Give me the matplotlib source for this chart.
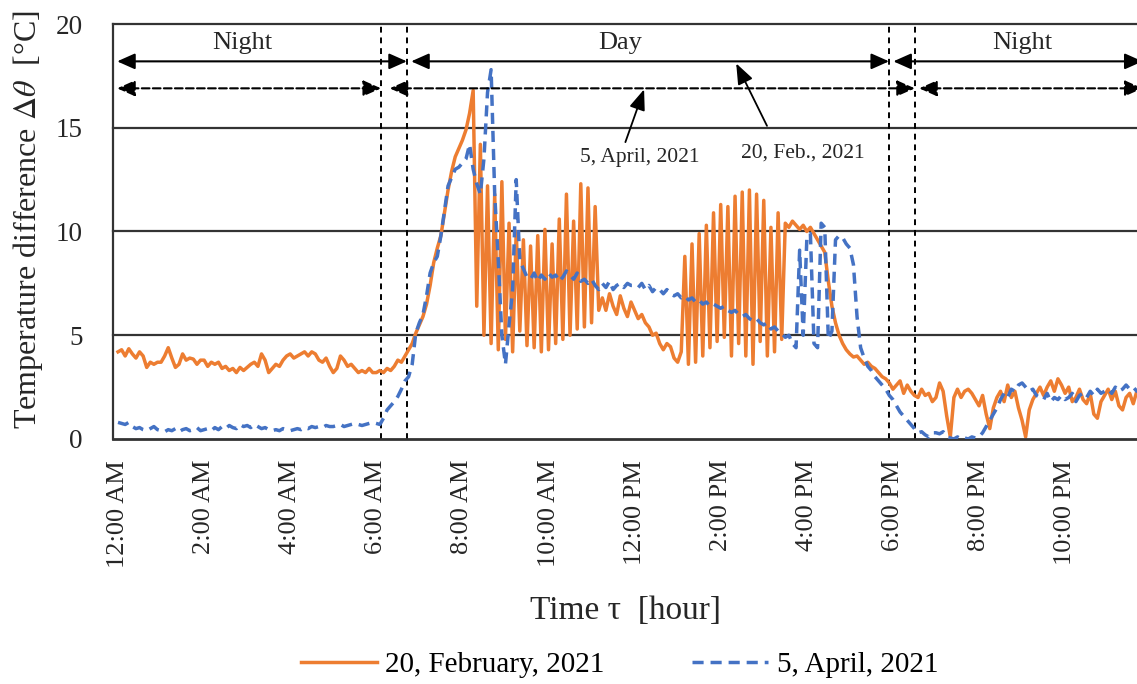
import numpy as np
import matplotlib
matplotlib.use('Agg')
import matplotlib.pyplot as plt

plt.rcParams['font.family'] = ['Liberation Serif', 'DejaVu Serif']
plt.rcParams['mathtext.fontset'] = 'stix'

# temperature difference, one value every 5 minutes, one row per hour
feb = [
    4.2, 4.3, 4.0, 4.35, 4.1, 3.9, 4.2, 4.0, 3.45, 3.7, 3.6, 3.7,
    3.7, 4.0, 4.4, 3.9, 3.45, 3.6, 4.1, 3.8, 3.9, 3.85, 3.6, 3.8,
    3.8, 3.5, 3.7, 3.6, 3.7, 3.4, 3.5, 3.3, 3.4, 3.2, 3.45, 3.3,
    3.45, 3.6, 3.7, 3.5, 4.1, 3.8, 3.2, 3.4, 3.6, 3.5, 3.8, 4.0,
    4.1, 3.9, 4.0, 4.1, 4.2, 4.0, 4.2, 4.1, 3.8, 3.7, 3.9, 3.5,
    3.2, 3.4, 4.0, 3.8, 3.5, 3.6, 3.4, 3.2, 3.3, 3.2, 3.4, 3.2,
    3.2, 3.3, 3.2, 3.4, 3.3, 3.5, 3.8, 3.7, 4.0, 4.3, 4.6, 5.1,
    5.5, 5.9, 6.5, 7.4, 8.5, 9.2, 9.8, 10.9, 12.0, 12.9, 13.6, 14.0,
    14.4, 14.9, 15.7, 16.8, 6.4, 14.2, 5.0, 12.2, 4.6, 11.8, 4.3, 12.4,
    4.8, 10.4, 4.2, 10.0, 5.2, 9.6, 4.5, 9.3, 4.4, 9.8, 4.2, 10.1,
    4.3, 9.4, 4.6, 10.6, 4.8, 11.8, 5.0, 10.5, 5.3, 12.3, 5.4, 12.1,
    5.6, 11.2, 6.2, 6.8, 6.2, 7.0, 6.4, 6.0, 6.9, 6.3, 5.9, 6.6,
    6.2, 5.8, 6.0, 5.6, 5.4, 5.0, 5.1, 4.6, 4.3, 4.6, 4.45, 3.9,
    3.7, 4.2, 8.8, 3.6, 9.4, 3.7, 9.9, 4.0, 10.3, 4.4, 10.9, 4.7,
    11.3, 4.9, 11.2, 4.0, 11.7, 4.6, 11.9, 4.0, 12.0, 3.6, 11.8, 4.7,
    11.5, 4.0, 10.2, 4.2, 10.9, 4.8, 10.4, 10.2, 10.5, 10.3, 10.1, 10.3,
    10.0, 10.2, 9.9, 9.6, 9.3, 9.0, 7.6, 6.4, 5.6, 5.0, 4.6, 4.3,
    4.1, 3.95, 4.0, 3.8, 3.6, 3.7, 3.5, 3.4, 3.2, 3.0, 2.9, 2.7,
    2.4, 2.6, 2.8, 2.2, 2.6, 2.3, 2.1, 2.0, 2.4, 2.1, 2.2, 1.8,
    2.0, 2.7, 2.3, 1.1, 0.1, 2.0, 2.4, 2.0, 2.3, 2.4, 2.2, 1.9,
    1.6, 2.1, 1.2, 0.5, 1.5, 2.0, 2.3, 1.8, 2.6, 2.0, 2.3, 1.5,
    0.9, 0.1, 1.4, 1.9, 2.2, 2.5, 2.1, 2.5, 2.8, 2.3, 2.9, 2.6,
    2.2, 2.5, 1.8, 2.0, 2.4, 1.9, 1.7, 2.2, 1.2, 1.0, 1.8, 2.1,
    2.4, 1.9, 2.3, 1.6, 1.4, 2.0, 2.2, 1.7, 2.3, 1.9, 1.6, 2.0,
]

apr = [
    0.8, 0.75, 0.7, 0.8, 0.6, 0.5, 0.55, 0.45, 0.4, 0.5, 0.6, 0.45,
    0.4, 0.35, 0.45, 0.4, 0.5, 0.35, 0.45, 0.5, 0.4, 0.45, 0.55, 0.4,
    0.45, 0.5, 0.4, 0.55, 0.45, 0.6, 0.5, 0.65, 0.55, 0.5, 0.7, 0.6,
    0.65, 0.55, 0.7, 0.6, 0.5, 0.55, 0.45, 0.4, 0.45, 0.4, 0.5, 0.45,
    0.4, 0.45, 0.5, 0.45, 0.55, 0.5, 0.6, 0.55, 0.6, 0.55, 0.65, 0.6,
    0.6, 0.65, 0.7, 0.6, 0.65, 0.7, 0.75, 0.7, 0.65, 0.7, 0.75, 0.8,
    0.75, 0.7, 1.0, 1.4, 1.6, 1.8, 2.05, 2.4, 2.8, 3.0, 3.6, 5.1,
    5.6, 6.0, 6.9, 8.0, 8.5, 8.8, 9.8, 11.0, 12.2, 12.6, 13.0, 13.1,
    13.3, 13.5, 14.2, 13.0, 12.3, 11.8, 13.5, 16.7, 17.8, 11.8, 8.6, 5.0,
    3.6, 5.5, 7.2, 12.5, 8.6, 8.2, 7.8, 7.7, 8.0, 7.6, 7.9, 7.7,
    8.0, 7.8, 7.9, 7.6, 7.8, 8.1, 7.9, 7.7, 8.0, 7.6, 7.7, 7.5,
    7.7, 7.4, 7.2, 7.5, 7.3, 7.6, 7.2, 7.4, 7.5, 7.3, 7.5, 7.4,
    7.4, 7.3, 7.5, 7.2, 7.4, 7.1, 7.3, 7.2, 7.0, 7.2, 7.0, 6.9,
    7.0, 6.8, 6.9, 6.7, 6.8, 6.6, 6.7, 6.5, 6.6, 6.4, 6.5, 6.4,
    6.3, 6.4, 6.2, 6.1, 6.2, 6.0, 5.9, 6.0, 5.8, 5.7, 5.8, 5.6,
    5.5, 5.6, 5.3, 5.4, 5.2, 5.1, 4.9, 5.0, 4.6, 4.4, 9.1, 5.0,
    9.6, 9.9, 4.6, 4.4, 10.4, 10.2, 4.8, 5.2, 9.6, 9.8, 9.7, 9.4,
    9.2, 8.4, 5.9, 4.4, 3.9, 3.5, 3.3, 3.0, 2.8, 2.6, 2.4, 2.1,
    1.9, 1.6, 1.3, 1.1, 0.9, 0.7, 0.5, 0.3, 0.35, 0.2, 0.1, 0.3,
    0.3, 0.25, 0.35, 0.1, 0.05, 0.0, 0.1, 0.0, 0.05, 0.0, 0.1, 0.05,
    0.1, 0.3, 0.6, 0.9, 1.2, 1.5, 1.9, 2.2, 2.0, 2.4, 2.3, 2.6,
    2.7, 2.5, 2.3, 2.4, 2.1, 2.0, 1.9, 2.2, 1.8, 2.0, 1.9, 2.1,
    1.9, 2.0, 2.2, 1.8, 2.1, 2.2, 2.0, 2.3, 2.1, 2.4, 2.2, 2.3,
    2.4, 2.2, 2.5, 2.3, 2.4, 2.6, 2.4, 2.5, 2.3, 2.5, 2.6, 2.4,
]

tick_hours = [0, 2, 4, 6, 8, 10, 12, 14, 16, 18, 20, 22]
tick_labels = ['12:00 AM', '2:00 AM', '4:00 AM', '6:00 AM', '8:00 AM', '10:00 AM',
               '12:00 PM', '2:00 PM', '4:00 PM', '6:00 PM', '8:00 PM', '10:00 PM']

# sunrise / sunset (hours)
feb_rise, feb_set = 6.71, 17.91
apr_rise, apr_set = 6.11, 18.51

t = np.arange(len(feb)) * 5 / 60

fig = plt.figure(figsize=(11.37, 6.84), dpi=100)
ax = fig.add_axes([0.0994, 0.3582, 0.9006, 0.6067])

for y in [5, 10, 15, 20]:
    ax.axhline(y, color='#333333', lw=1.6, zorder=0.5, clip_on=False)
for x in [apr_rise, feb_rise, feb_set, apr_set]:
    ax.axvline(x, color='black', lw=1.4, ls=(0, (3, 2.5)), zorder=1)

ax.plot(t, feb, color='#ED7D31', lw=2.5, label='20, February, 2021', zorder=2)
ax.plot(t, apr, color='#4472C4', lw=2.5, ls=(0, (3.2, 2.0)), label='5, April, 2021', zorder=3)

ax.set_xlim(-0.116, 23.67)
ax.set_ylim(0, 20)
ax.set_yticks([0, 5, 10, 15, 20])
ax.set_xticks(tick_hours, tick_labels, rotation=90)
ax.tick_params(axis='x', length=0, pad=15, labelsize=19, labelcolor='#262626')
ax.tick_params(axis='y', length=0, pad=22, labelsize=19.5, labelcolor='#262626')

for s in ['top', 'right']:
    ax.spines[s].set_visible(False)
ax.spines['left'].set_color('#333333')
ax.spines['left'].set_linewidth(1.6)
ax.spines['bottom'].set_color('#333333')
ax.spines['bottom'].set_linewidth(2.0)


def span(x0, x1, y, ls):
    ax.annotate('', xy=(x1, y), xytext=(x0, y),
                arrowprops=dict(arrowstyle='<|-|>,head_length=0.9,head_width=0.4',
                                color='black', lw=1.5, ls=ls, shrinkA=0, shrinkB=0,
                                mutation_scale=12),
                annotation_clip=False)


# 20 Feb (solid) and 5 April (dashed) day/night spans
span(-0.02, feb_rise, 18.2, '-')
span(feb_rise + 0.1, feb_set, 18.2, '-')
span(feb_set + 0.1, 23.8, 18.2, '-')
span(-0.02, apr_rise, 16.9, '--')
span(apr_rise + 0.2, apr_set, 16.9, '--')
span(apr_set + 0.1, 23.8, 16.9, '--')

ax.text(2.88, 19.08, 'Night', ha='center', va='center', fontsize=19, color='#262626')
ax.text(11.66, 19.08, 'Day', ha='center', va='center', fontsize=19, color='#262626')
ax.text(21.0, 19.08, 'Night', ha='center', va='center', fontsize=19, color='#262626')

ax.annotate('5, April, 2021', xy=(12.22, 16.85), xytext=(12.13, 13.59),
            ha='center', va='center', fontsize=15.5, color='#262626',
            arrowprops=dict(arrowstyle='-|>,head_length=0.9,head_width=0.35', color='black',
                            lw=1.3, relpos=(0.36, 1.0), shrinkA=2, shrinkB=0,
                            mutation_scale=14))
ax.annotate('20, Feb., 2021', xy=(14.36, 18.1), xytext=(15.91, 13.78),
            ha='center', va='center', fontsize=15.5, color='#262626',
            arrowprops=dict(arrowstyle='-|>,head_length=0.9,head_width=0.35', color='black',
                            lw=1.3, relpos=(0.28, 1.0), shrinkA=12, shrinkB=0,
                            mutation_scale=14))

ax.set_ylabel('Temperature difference $\\mathit{\\Delta\\theta}$  [°C]', fontsize=23, color='#262626')
ax.yaxis.set_label_coords(-0.066, 0.528)
ax.set_xlabel('Time τ  [hour]', fontsize=24, color='#262626')
ax.xaxis.set_label_coords(0.5, -0.376)

fig.legend(loc='center', bbox_to_anchor=(0.545, 0.028), ncol=2, frameon=False,
           fontsize=21, handlelength=2.6, columnspacing=3, handletextpad=0.3)

fig.savefig('out.png', dpi=100)
